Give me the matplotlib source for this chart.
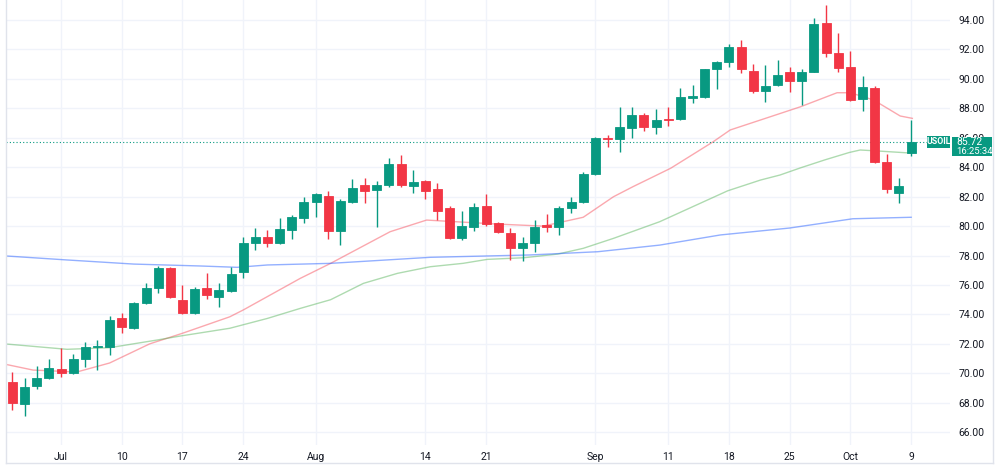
import numpy as np
import matplotlib
matplotlib.use("Agg")
import matplotlib.pyplot as plt
from matplotlib.lines import Line2D
from matplotlib.patches import Rectangle

plt.rcParams['font.family'] = ['Roboto', 'DejaVu Sans']

# daily candles, 27 Jun .. 9 Oct (index = trading day)
opens = [69.43, 67.91, 69.14, 69.70, 70.31, 70.04, 70.95, 71.76, 71.81, 73.78,
         73.06, 74.75, 75.77, 77.13, 74.98, 74.07, 75.77, 75.20, 75.61, 76.90,
         78.83, 79.28, 78.83, 79.73, 80.53, 81.66, 82.04, 79.69, 81.62, 82.79,
         82.45, 82.79, 84.20, 82.74, 83.06, 82.50, 81.21, 79.17, 79.96, 81.36,
         80.23, 79.55, 78.49, 78.83, 80.07, 79.92, 81.21, 81.62, 83.54, 86.00,
         85.91, 86.64, 87.55, 86.71, 87.30, 87.25, 88.72, 88.75, 90.65, 91.17,
         92.15, 90.56, 89.20, 89.58, 90.49, 89.86, 90.49, 93.78, 91.74, 90.83,
         88.61, 89.36, 84.33, 82.23, 84.94]
highs = [70.11, 69.66, 70.50, 70.97, 71.70, 71.31, 72.15, 72.26, 73.89, 74.12,
         74.86, 76.11, 77.31, 77.25, 76.00, 75.88, 76.79, 76.11, 77.24, 79.24,
         79.85, 79.73, 80.53, 80.75, 81.95, 82.23, 82.40, 81.82, 83.20, 83.25,
         83.06, 84.60, 84.83, 83.81, 83.13, 82.91, 81.36, 81.02, 81.59, 82.16,
         80.30, 79.85, 79.24, 80.41, 80.82, 81.36, 82.00, 83.69, 86.05, 86.19,
         88.07, 88.11, 87.70, 87.95, 88.11, 89.36, 89.58, 90.70, 91.23, 92.37,
         92.64, 91.01, 90.94, 91.28, 90.79, 90.67, 94.12, 95.02, 93.10, 91.89,
         90.22, 89.54, 84.90, 83.25, 87.21]
lows = [67.51, 67.10, 68.95, 69.59, 69.73, 69.95, 70.41, 70.22, 71.24, 72.76,
        73.00, 74.70, 75.43, 75.10, 74.00, 74.00, 75.03, 74.52, 75.55, 76.49,
        78.37, 78.60, 78.80, 79.10, 80.19, 80.64, 79.10, 78.71, 81.58, 81.59,
        79.96, 82.67, 82.67, 82.27, 81.82, 80.41, 79.15, 79.05, 79.67, 80.00,
        79.50, 77.70, 77.65, 78.26, 79.62, 79.39, 80.91, 81.55, 83.50, 85.35,
        85.05, 85.96, 86.48, 86.26, 86.80, 87.20, 88.34, 88.70, 89.29, 90.83,
        90.42, 89.06, 88.45, 89.50, 89.09, 88.23, 90.45, 91.51, 90.49, 88.50,
        87.84, 84.26, 82.23, 81.59, 84.78]
closes = [67.96, 69.09, 69.70, 70.34, 70.04, 70.95, 71.76, 71.85, 73.62, 73.12,
          74.75, 75.77, 77.13, 75.20, 74.07, 75.70, 75.32, 75.66, 76.74, 78.83,
          79.28, 78.87, 79.78, 80.60, 81.66, 82.16, 79.69, 81.72, 82.57, 82.40,
          82.79, 84.20, 82.79, 83.02, 82.40, 81.02, 79.21, 80.01, 81.32, 80.14,
          79.58, 78.53, 78.83, 79.92, 79.92, 81.25, 81.66, 83.54, 85.96, 85.91,
          86.71, 87.55, 86.71, 87.21, 87.21, 88.75, 88.86, 90.67, 91.17, 92.19,
          90.67, 89.20, 89.52, 90.26, 89.86, 90.49, 93.71, 91.78, 90.72, 88.57,
          89.43, 84.37, 82.52, 82.72, 85.72]

# moving averages (bar index, price)
ma_fast_x = [-0.5, 1.7, 5.3, 8.0, 11.3, 14.0, 17.9, 19.0, 23.7, 26.2, 31.1, 34.1,
             39.9, 43.7, 47.0, 49.5, 51.1, 54.2, 57.7, 59.1, 61.6, 64.9, 67.9,
             69.0, 70.9, 73.1, 74.1]
ma_fast_y = [70.60, 70.22, 70.09, 70.70, 72.00, 72.72, 73.84, 74.30, 76.45, 77.47,
             79.62, 80.41, 80.14, 80.00, 80.60, 82.00, 82.68, 83.93, 85.73, 86.53,
             87.21, 88.11, 89.06, 89.06, 88.57, 87.48, 87.32]
ma_mid_x = [-0.5, 4.5, 8.0, 11.9, 13.8, 17.9, 21.0, 23.7, 26.2, 28.9, 31.7, 34.4,
            37.1, 39.1, 42.1, 44.9, 47.0, 49.5, 53.3, 58.9, 61.6, 63.2, 64.9,
            66.9, 68.9, 69.8, 70.9, 74.0]
ma_mid_y = [71.99, 71.63, 71.74, 72.26, 72.53, 73.06, 73.73, 74.41, 75.00, 76.11,
            76.79, 77.24, 77.47, 77.74, 77.85, 78.10, 78.49, 79.17, 80.30, 82.40,
            83.13, 83.47, 83.96, 84.50, 85.00, 85.17, 85.12, 84.96]
ma_slow_x = [-0.5, 4.5, 10.0, 15.5, 18.5, 21.0, 26.2, 34.4, 42.6, 48.2, 53.3, 58.3,
             64.0, 69.2, 74.0]
ma_slow_y = [77.97, 77.70, 77.42, 77.29, 77.20, 77.36, 77.47, 77.88, 78.04, 78.26,
             78.71, 79.40, 79.87, 80.50, 80.60]

tick_idx = [4, 9, 14, 19, 25, 34, 39, 48, 54, 59, 64, 69, 74]
tick_lbl = ['Jul', '10', '17', '24', 'Aug', '14', '21', 'Sep', '11', '18', '25', 'Oct', '9']
price_ticks = np.arange(66, 95, 2)
symbol = 'USOIL'
last_price = 85.72
countdown = '16:25:34'

UP = '#089981'
DOWN = '#f23645'
GRID = '#f0f3fa'
TXT = '#131722'

fig = plt.figure(figsize=(10, 4.66), dpi=100)
W, H = 1000, 466
ax = fig.add_axes([6 / W, 21 / H, 944 / W, 445 / H])
ax.set_xlim(-0.53, 77.2)
ax.set_ylim(65.13, 95.36)

for i in range(len(opens)):
    o, h, l, c = opens[i], highs[i], lows[i], closes[i]
    col = UP if c >= o else DOWN
    ax.vlines(i, l, h, color=col, lw=1, zorder=3)
    lo = min(o, c)
    ht = max(abs(c - o), 0.06)
    ax.add_patch(Rectangle((i - 0.37, lo), 0.74, ht, facecolor=col,
                           edgecolor=col, lw=0.6, zorder=4))

ax.plot(ma_fast_x, ma_fast_y, color='#f7525f', lw=1, alpha=0.5, zorder=2)
ax.plot(ma_mid_x, ma_mid_y, color='#4caf50', lw=1, alpha=0.45, zorder=2)
ax.plot(ma_slow_x, ma_slow_y, color='#2962ff', lw=1, alpha=0.5, zorder=2)

ax.axhline(last_price, xmax=(76.1 + 0.53) / 77.73, color=UP, lw=0.8,
           ls=(0, (1, 2)), zorder=2)

ax.set_xticks(tick_idx)
ax.set_xticklabels(tick_lbl)
ax.set_yticks(price_ticks)
ax.set_yticklabels(['%.2f' % p for p in price_ticks])
ax.yaxis.tick_right()
ax.tick_params(axis='both', length=0, labelsize=7.5, colors=TXT)
ax.tick_params(axis='y', pad=6)
ax.tick_params(axis='x', pad=5)
ax.grid(True, color=GRID, lw=1)
ax.set_axisbelow(True)
for s in ['top', 'right', 'bottom', 'left']:
    ax.spines[s].set_visible(False)

# frame
fig.add_artist(Line2D([6 / W, 6 / W], [3 / H, 1], color='#e0e3eb', lw=1))
fig.add_artist(Line2D([6 / W, 993 / W], [3 / H, 3 / H], color='#e0e3eb', lw=1))
fig.add_artist(Line2D([993 / W, 993 / W], [3 / H, 1], color='#e0e3eb', lw=1))

# last price labels
y_lp = ax.transData.transform((0, last_price))[1] / H
fig.add_artist(Rectangle((927 / W, y_lp - 6 / H), 23 / W, 12 / H, transform=fig.transFigure,
                         facecolor=UP, edgecolor='none', zorder=5))
fig.text(938.5 / W, y_lp, symbol, color='white', fontsize=6.3, fontweight='bold',
         ha='center', va='center', zorder=6)
fig.add_artist(Rectangle((952 / W, y_lp - 14 / H), 40 / W, 19 / H, transform=fig.transFigure,
                         facecolor=UP, edgecolor='none', zorder=5))
fig.text(956 / W, y_lp - 0.5 / H, '%.2f' % last_price, color='white', fontsize=7.5,
         ha='left', va='center', zorder=6)
fig.text(956 / W, y_lp - 9.5 / H, countdown, color='white', fontsize=6.8,
         ha='left', va='center', zorder=6)

fig.savefig('out.png', dpi=100, facecolor='white')
